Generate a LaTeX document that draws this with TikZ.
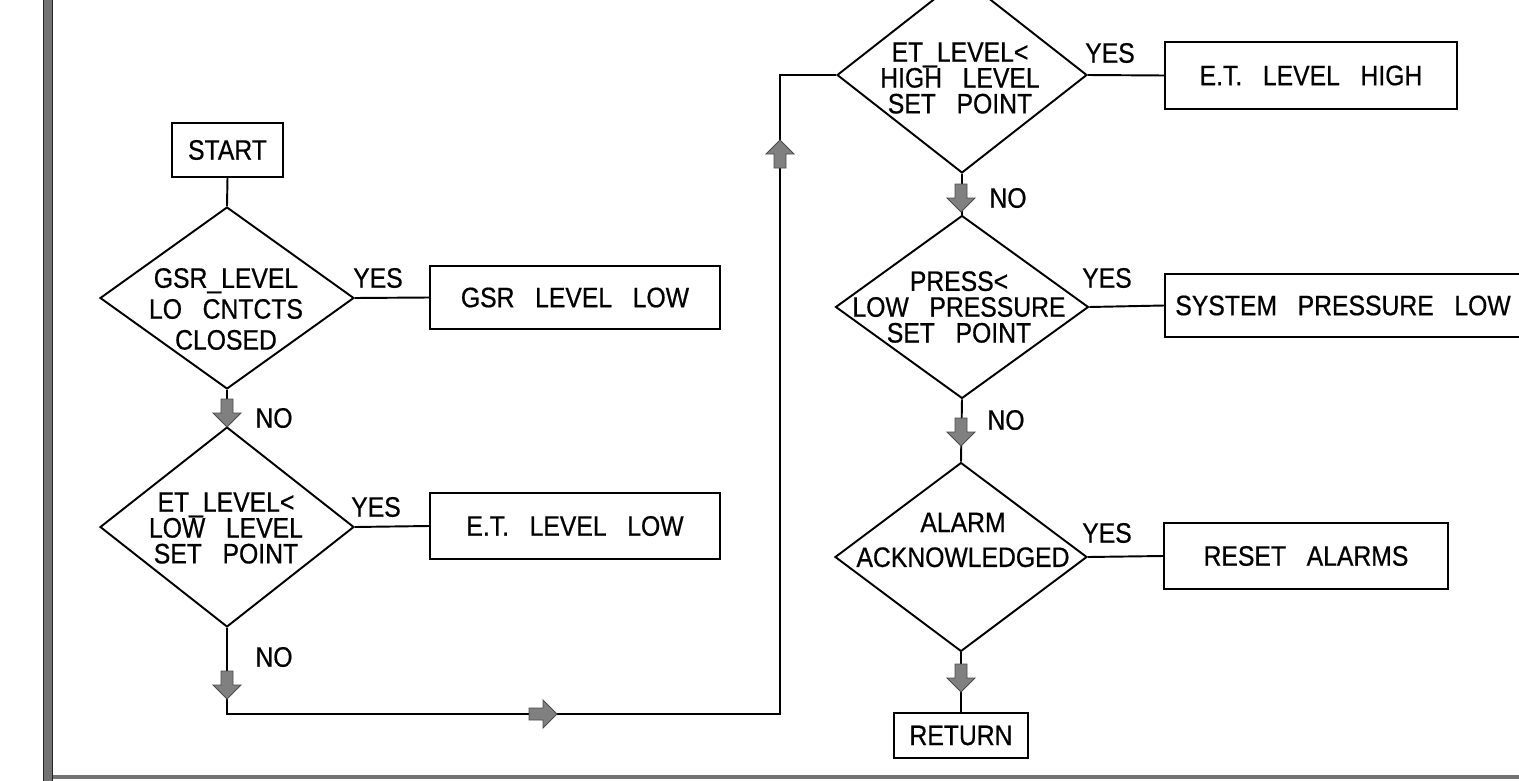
\documentclass[tikz,border=0pt]{standalone}
\usepackage{fontspec}
\setmainfont{Liberation Sans}[FakeStretch=0.88,WordSpace=3.0,FakeBold=0.6]
\usetikzlibrary{shapes.geometric}
\begin{document}
\begin{tikzpicture}[x=0.02cm,y=-0.02cm,
  conn/.style={line width=1.1pt, black},
  dec/.style={diamond, draw, line width=1.1pt, inner sep=0pt},
  box/.style={rectangle, draw, line width=1.1pt, inner sep=0pt, font=\fontsize{16pt}{18pt}\selectfont},
  lbl/.style={font=\fontsize{16pt}{18pt}\selectfont, inner sep=0pt},
  dtext/.style={align=center, inner sep=0pt},
  blkarrow/.pic={\filldraw[fill=black!50, draw=black!70, line width=0.5pt]
     (-6,-14) -- (6,-14) -- (6,0) -- (14,0) -- (0,14) -- (-14,0) -- (-6,0) -- cycle;}
]
\useasboundingbox (0,0) rectangle (1519,781);
\fill[white] (0,0) rectangle (1519,781);
\clip (0,0) rectangle (1519,781);
% frame
\filldraw[fill=black!55, draw=black!85, line width=0.5pt] (43,-2) rectangle (52,783);
\draw[black!55, line width=1.8pt] (53,777) -- (1525,777);

% decisions
\node[dec, minimum width=5.08cm, minimum height=3.64cm] (d1) at (227,298) {};
\node[dec, minimum width=5.08cm, minimum height=4.0cm]  (d2) at (227,527) {};
\node[dec, minimum width=5.0cm,  minimum height=3.92cm] (d3) at (962,75) {};
\node[dec, minimum width=5.06cm, minimum height=3.66cm] (d4) at (962,307) {};
\node[dec, minimum width=5.04cm, minimum height=3.78cm] (d5) at (961,557) {};

\node[dtext, font=\fontsize{16pt}{17.6pt}\selectfont] (t1) at (226,309) {GSR\_LEVEL\\LO CNTCTS\\CLOSED};
\node[dtext, font=\fontsize{16pt}{14.7pt}\selectfont] (t2) at (226,528) {ET\_LEVEL<\\LOW LEVEL\\SET POINT};
\node[dtext, font=\fontsize{16pt}{14.7pt}\selectfont] (t3) at (960,78) {ET\_LEVEL<\\HIGH LEVEL\\SET POINT};
\node[dtext, font=\fontsize{16pt}{14.7pt}\selectfont] (t4) at (959,307) {PRESS<\\LOW PRESSURE\\SET POINT};
\node[dtext, font=\fontsize{16pt}{19.8pt}\selectfont] (t5) at (963,540) {ALARM\\ACKNOWLEDGED};

% boxes
\node[box, minimum width=2.22cm, minimum height=1.08cm] (start) at (227.5,150) {START};
\node[box, minimum width=5.8cm,  minimum height=1.26cm] (gsr) at (575,297.5) {GSR LEVEL LOW};
\node[box, minimum width=5.8cm,  minimum height=1.32cm] (etl) at (575,526) {E.T. LEVEL LOW};
\node[box, minimum width=5.84cm, minimum height=1.34cm] (eth) at (1311,75.5) {E.T. LEVEL HIGH};
\node[box, minimum width=7.4cm,  minimum height=1.26cm] (spl) at (1350,305.5) {};
\node[lbl, anchor=west] (spltext) at (1175,305.5) {SYSTEM PRESSURE LOW};
\node[box, minimum width=5.68cm, minimum height=1.32cm] (reset) at (1306,556) {RESET ALARMS};
\node[box, minimum width=2.68cm, minimum height=0.9cm] (ret) at (961,735.5) {RETURN};

% corners
\coordinate (c1) at (227,714);
\coordinate (c2) at (780,714);
\coordinate (c3) at (780,75);

% connectors
\draw[conn] (start.south) -- (d1.north);
\draw[conn] (d1.east) -- (gsr.west);
\draw[conn] (d1.south) -- (d2.north);
\draw[conn] (d2.east) -- (etl.west);
\draw[conn] (d2.south) -- (c1) -- (c2) -- (c3) -- (d3.west);
\draw[conn] (d3.east) -- (eth.west);
\draw[conn] (d3.south) -- (d4.north);
\draw[conn] (d4.east) -- (spl.west);
\draw[conn] (d4.south) -- (d5.north);
\draw[conn] (d5.east) -- (reset.west);
\draw[conn] (d5.south) -- (ret.north);

% block arrows
\pic at (227,413) {blkarrow};
\pic at (227,685) {blkarrow};
\pic[rotate=90] at (543,714) {blkarrow};
\pic[rotate=180] at (780,154) {blkarrow};
\pic at (961,198) {blkarrow};
\pic at (961,432) {blkarrow};
\pic at (961,678) {blkarrow};

% labels
\node[lbl] (y1) at (378,278) {YES};
\node[lbl] (y2) at (376,507) {YES};
\node[lbl] (y3) at (1110,53) {YES};
\node[lbl] (y4) at (1107,278) {YES};
\node[lbl] (y5) at (1107,533) {YES};
\node[lbl] (n1) at (274,418) {NO};
\node[lbl] (n2) at (274,657) {NO};
\node[lbl] (n3) at (1008,198) {NO};
\node[lbl] (n4) at (1006,420) {NO};
\end{tikzpicture}
\end{document}
